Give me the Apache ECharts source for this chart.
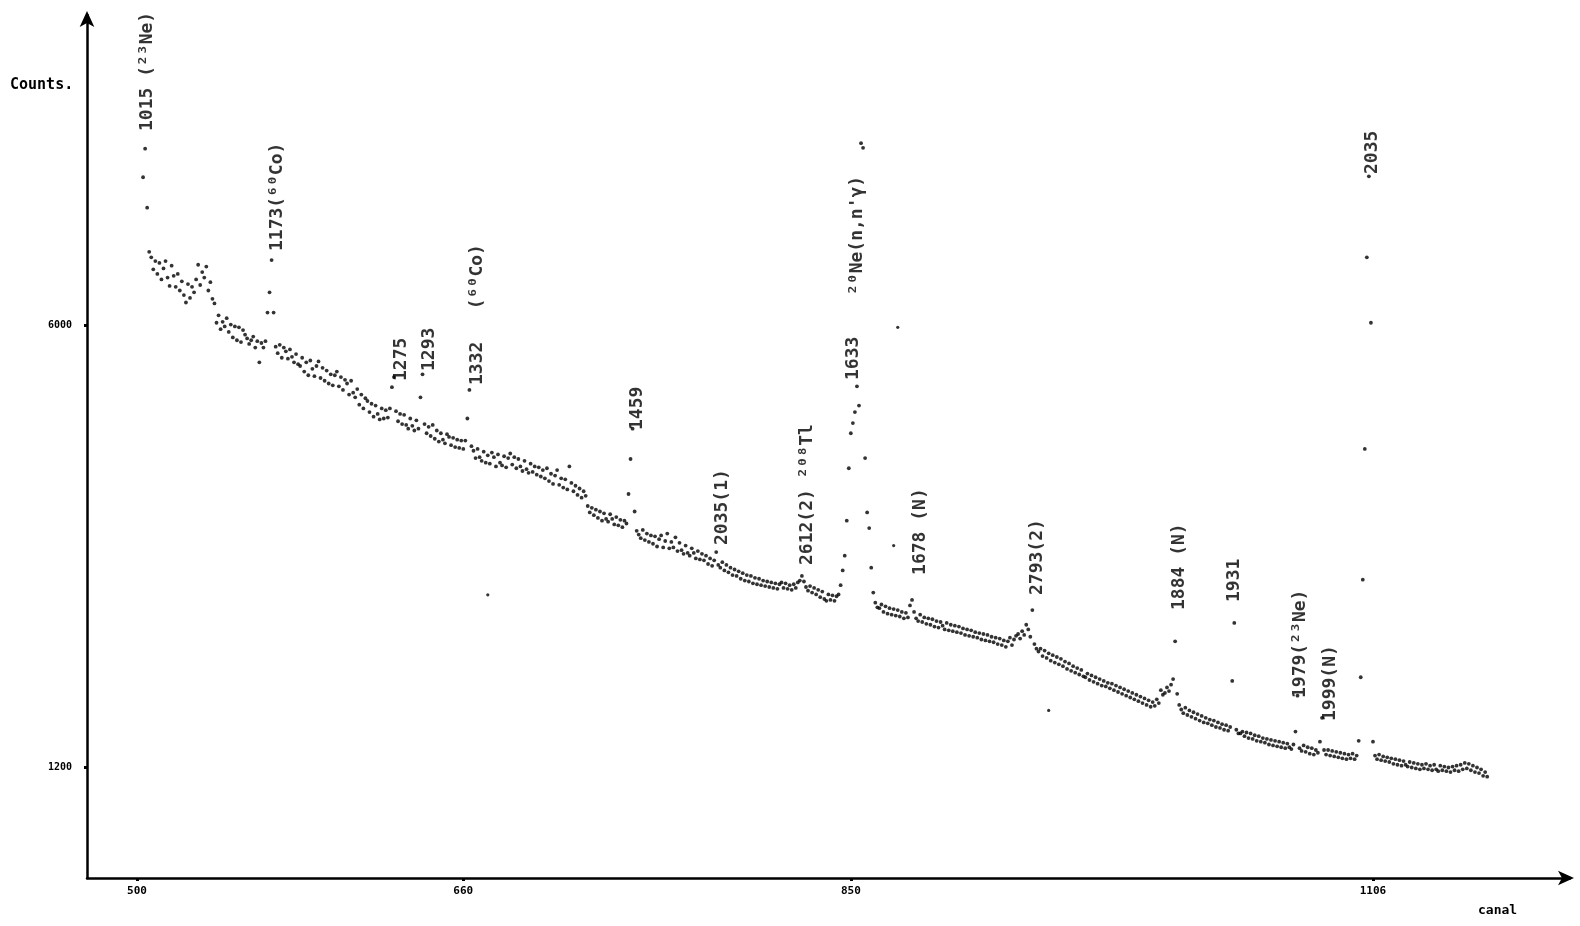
<!DOCTYPE html>
<html>
<head>
<meta charset="utf-8">
<script src="https://cdn.jsdelivr.net/npm/echarts@6/dist/echarts.min.js"></script>
<style>
html,body{margin:0;padding:0;background:#fff;}
#chart{width:1580px;height:926px;}
</style>
</head>
<body>
<div id="chart"></div>
<script>
// ---- data ----
const firstChannel = 503;
const counts = [
  7610, 7920, 7280, 6800, 6740, 6610, 6700, 6560, 6680, 6500,
  6620, 6700, 6520, 6430, 6650, 6540, 6420, 6560, 6380, 6480,
  6330, 6250, 6450, 6300, 6420, 6360, 6500, 6660, 6440, 6580,
  6520, 6640, 6380, 6470, 6290, 6240, 6030, 6110, 5960, 6040,
  5990, 6080, 5930, 6010, 5870, 5990, 5840, 5980, 5820, 5950,
  5900, 5860, 5800, 5840, 5880, 5760, 5830, 5600, 5810, 5760,
  5830, 6140, 6360, 6710, 6140, 5770, 5700, 5790, 5650, 5760,
  5720, 5640, 5740, 5660, 5600, 5690, 5580, 5560, 5650, 5500,
  5600, 5460, 5620, 5530, 5450, 5560, 5610, 5430, 5540, 5400,
  5510, 5370, 5470, 5350, 5460, 5500, 5340, 5440, 5300, 5410,
  5370, 5250, 5400, 5270, 5220, 5310, 5140, 5250, 5100, 5210,
  5180, 5060, 5150, 5010, 5130, 5040, 4980, 5100, 4990, 5080,
  5000, 5100, 5330, 5440, 5070, 4960, 5040, 4930, 5030, 4920,
  4880, 4990, 4910, 4860, 4970, 4880, 5220, 5470, 4930, 4830,
  4900, 4800, 4920, 4770, 4860, 4740, 4830, 4760, 4720, 4820,
  4790, 4700, 4780, 4680, 4760, 4670, 4750, 4660, 4750, 4990,
  5300, 4690, 4640, 4560, 4660, 4570, 4530, 4630, 4510, 4590,
  4500, 4620, 4570, 4470, 4600, 4510, 4480, 4580, 4460, 4560,
  4610, 4490, 4570, 4450, 4550, 4470, 4420, 4530, 4440, 4400,
  4500, 4410, 4470, 4380, 4460, 4360, 4430, 4340, 4450, 4310,
  4390, 4280, 4370, 4430, 4270, 4340, 4240, 4330, 4220, 4470,
  4290, 4200, 4260, 4160, 4230, 4130, 4200, 4150, 4040, 3970,
  4020, 3940, 4000, 3910, 3980, 3880, 3960, 3900, 3870, 3950,
  3900, 3840, 3920, 3830, 3890, 3810, 3880, 3850, 4170, 4550,
  4880, 3980, 3770, 3730, 3690, 3780, 3670, 3740, 3650, 3720,
  3630, 3710, 3600, 3680, 3720, 3590, 3660, 3740, 3580, 3650,
  3590, 3700, 3550, 3640, 3560, 3520, 3610, 3530, 3500, 3580,
  3530, 3470, 3550, 3460, 3520, 3450, 3500, 3410, 3470, 3390,
  3450, 3540, 3400, 3370, 3430, 3340, 3400, 3320, 3370, 3290,
  3350, 3280, 3330, 3250, 3310, 3230, 3290, 3220, 3280, 3200,
  3260, 3190, 3250, 3180, 3230, 3170, 3220, 3160, 3210, 3150,
  3200, 3140, 3190, 3210, 3150, 3200, 3140, 3180, 3130, 3190,
  3150, 3210, 3230, 3280, 3220, 3160, 3120, 3170, 3100, 3150,
  3080, 3130, 3050, 3110, 3030, 3010, 3080, 3020, 3070, 3010,
  3060, 3080, 3180, 3340, 3500, 3880, 4450, 4830, 4940, 5060,
  5340, 5130, 7980, 7930, 4560, 3970, 3800, 3370, 3100, 2990,
  2940, 2930, 2970, 2890, 2950, 2870, 2930, 2860, 2920, 2850,
  2910, 2840, 2890, 2820, 2880, 2830, 2960, 3020, 2890, 2820,
  2790, 2860, 2780, 2830, 2760, 2820, 2750, 2810, 2730, 2790,
  2720, 2780, 2740, 2700, 2770, 2690, 2750, 2680, 2740, 2670,
  2730, 2660, 2710, 2640, 2700, 2630, 2690, 2620, 2670, 2610,
  2660, 2590, 2650, 2580, 2640, 2570, 2620, 2560, 2610, 2540,
  2600, 2530, 2580, 2510, 2570, 2610, 2530, 2590, 2630, 2650,
  2600, 2680, 2640, 2750, 2700, 2620, 2910, 2540, 2490, 2460,
  2490, 2410, 2470, 2390, 2440, 2360, 2420, 2340, 2400, 2320,
  2380, 2300, 2350, 2270, 2330, 2250, 2300, 2230, 2280, 2210,
  2260, 2190, 2180, 2220, 2150, 2200, 2130, 2180, 2110, 2160,
  2090, 2140, 2080, 2120, 2060, 2110, 2040, 2090, 2020, 2070,
  2000, 2050, 1980, 2030, 1960, 2010, 1940, 1990, 1920, 1970,
  1900, 1950, 1880, 1930, 1860, 1910, 1870, 1940, 1900, 2040,
  1990, 2010, 2070, 2030, 2100, 2160, 2570, 2000, 1880, 1830,
  1790, 1850, 1770, 1820, 1750, 1800, 1730, 1780, 1710, 1760,
  1690, 1740, 1680, 1720, 1660, 1710, 1640, 1690, 1630, 1670,
  1610, 1660, 1600, 1640, 2140, 2770, 1610, 1570, 1570, 1590,
  1540, 1580, 1520, 1570, 1510, 1550, 1490, 1540, 1480, 1520,
  1470, 1510, 1450, 1500, 1440, 1490, 1430, 1480, 1420, 1470,
  1410, 1460, 1420, 1400, 1450, 1590, 1980, 1410, 1380, 1440,
  1370, 1420, 1350, 1410, 1340, 1390, 1360, 1480, 1740, 1390,
  1340, 1390, 1330, 1380, 1320, 1370, 1310, 1360, 1300, 1350,
  1290, 1340, 1300, 1350, 1290, 1330, 1490, 2180, 3240, 4660,
  6740, 7620, 6030, 1480, 1330, 1290, 1340, 1280, 1320, 1270,
  1310, 1260, 1300, 1240, 1290, 1230, 1280, 1220, 1270, 1230,
  1210, 1260, 1200, 1250, 1190, 1240, 1180, 1230, 1190, 1240,
  1180, 1220, 1170, 1230, 1180, 1160, 1220, 1170, 1210, 1160,
  1200, 1150, 1210, 1170, 1220, 1160, 1230, 1180, 1250, 1190,
  1240, 1170, 1220, 1150, 1200, 1140, 1180, 1110, 1150, 1100
];
const strayChannels = [672, 871, 873, 947];
const strayCounts = [3075, 3610, 5980, 1820];

const peakLabels = [
  "1015 (²³Ne)", "1173(⁶⁰Co)", "1275", "1293", "1332   (⁶⁰Co)", "1459",
  "2035(1)", "2612(2) ²⁰⁸Tl", "1633", "²⁰Ne(n,n'γ)", "1678 (N)", "2793(2)",
  "1884 (N)", "1931", "1979(²³Ne)", "1999(N)", "2035"
];
const peakLabelChannels = [505, 568.6, 629.4, 643.2, 666.7, 745.1,
  786.8, 828.5, 851, 853, 883.9, 941.3, 1010.9, 1037.8, 1070.2, 1084.9, 1105.5];
const peakLabelCounts = [8112, 6809, 5397, 5506, 5354, 4865,
  3616, 3399, 5408, 6331, 3291, 3073, 2910, 2997, 1955, 1705, 7645];

const xTickValues = [500, 660, 850, 1106];
const yTickValues = [1200, 6000];

// ---- build ----
const spectrum = counts.map((c, i) => [firstChannel + i, c]);
const strays = strayChannels.map((ch, i) => [ch, strayCounts[i]]);
const labelPts = peakLabelChannels.map((ch, i) => ({value: [ch, peakLabelCounts[i]], name: peakLabels[i]}));

const ink = '#000000';
const plain = v => String(v);
const chart = echarts.init(document.getElementById('chart'), null, {renderer: 'canvas'});
chart.setOption({
  backgroundColor: '#ffffff',
  animation: false,
  grid: {left: 87, right: 10, top: 15, bottom: 48, containLabel: false},
  xAxis: {
    type: 'value', min: 475.5, max: 1202.6,
    splitLine: {show: false},
    axisLine: {show: true, lineStyle: {color: ink, width: 2.5}, symbol: ['none', 'arrow'], symbolSize: [11, 16], symbolOffset: [0, 4]},
    axisTick: {show: true, customValues: xTickValues, length: 3, inside: false, lineStyle: {color: ink, width: 3}},
    axisLabel: {show: true, customValues: xTickValues, formatter: plain, margin: 8, color: ink, fontFamily: 'DejaVu Sans Mono', fontWeight: 'bold', fontSize: 11}
  },
  yAxis: {
    type: 'value', min: 0, max: 9372,
    splitLine: {show: false},
    axisLine: {show: true, lineStyle: {color: ink, width: 2.5}, symbol: ['none', 'arrow'], symbolSize: [11, 16], symbolOffset: [0, 4]},
    axisTick: {show: true, customValues: yTickValues, length: 3, lineStyle: {color: ink, width: 3}},
    axisLabel: {show: true, customValues: yTickValues, formatter: plain, margin: 15, color: ink, fontFamily: 'DejaVu Sans Mono', fontWeight: 'bold', fontSize: 10}
  },
  graphic: [
    {type: 'text', left: 10, top: 78, style: {text: 'Counts.', fill: ink, font: 'bold 15px "DejaVu Sans Mono"'}},
    {type: 'text', left: 1478, top: 904, style: {text: 'canal', fill: ink, font: 'bold 13px "DejaVu Sans Mono"'}}
  ],
  series: [
    {
      type: 'scatter', name: 'spectrum', data: spectrum,
      symbol: 'circle', symbolSize: 3.8, itemStyle: {color: ink}, silent: true
    },
    {
      type: 'scatter', name: 'stray', data: strays,
      symbol: 'circle', symbolSize: 3.2, itemStyle: {color: ink}, silent: true
    },
    {
      type: 'scatter', name: 'peaks', data: labelPts,
      symbolSize: 0, silent: true,
      label: {
        show: true, position: 'inside', rotate: 90, align: 'left', verticalAlign: 'middle',
        formatter: p => p.name, color: ink,
        fontFamily: 'DejaVu Sans Mono', fontWeight: 'bold', fontSize: 18
      }
    }
  ]
});
</script>
</body>
</html>
